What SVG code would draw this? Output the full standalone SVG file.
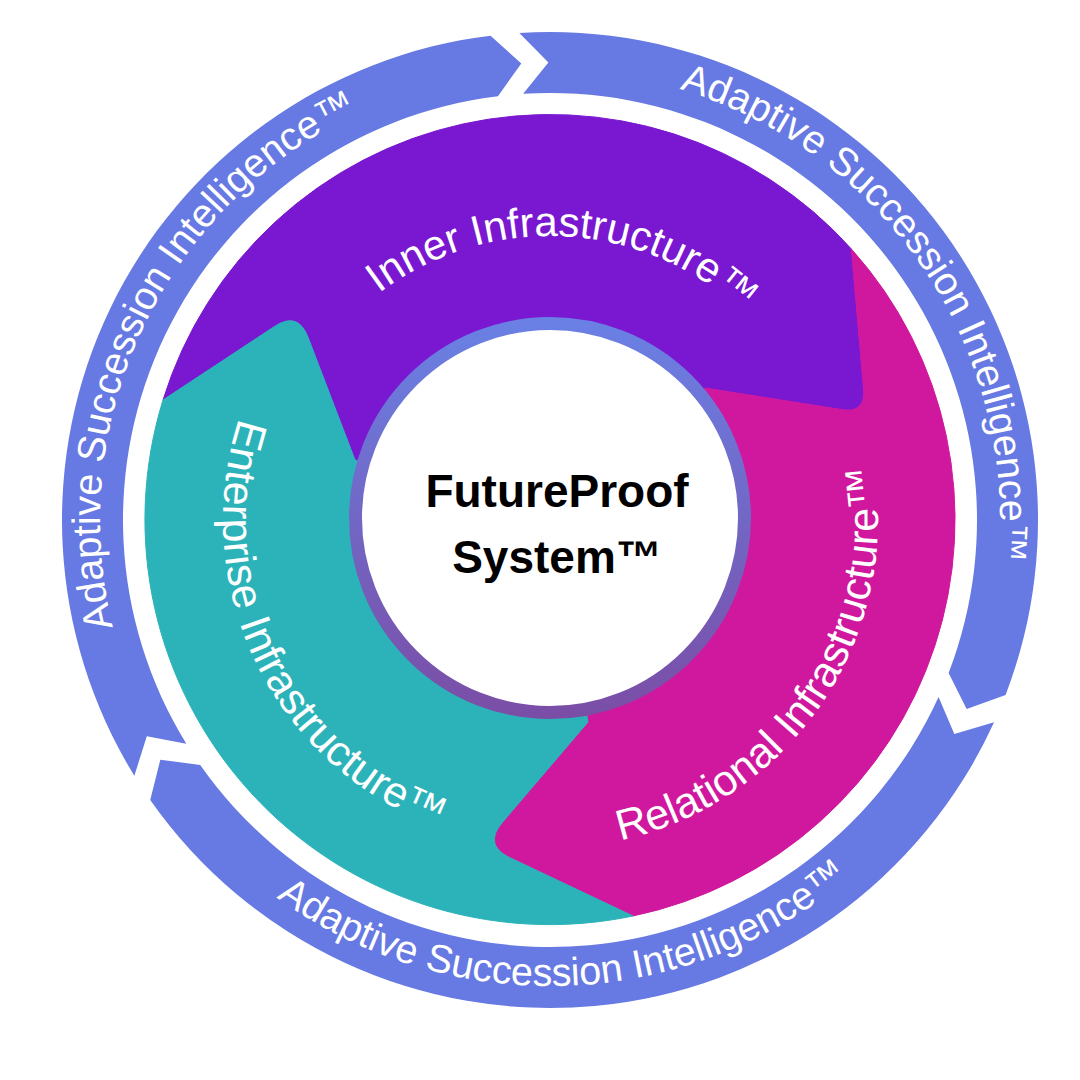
<svg xmlns="http://www.w3.org/2000/svg" width="1080" height="1080" viewBox="0 0 1080 1080">
  <style>
    .outer { fill: #6779e2; }
    .ring-text { fill: #ffffff; font-family: "Liberation Sans", Arial, sans-serif; font-size: 39.5px; }
    .seg-text { fill: #ffffff; font-family: "Liberation Sans", Arial, sans-serif; font-size: 42px; }
    .seg-text-lg { fill: #ffffff; font-family: "Liberation Sans", Arial, sans-serif; font-size: 43px; }
    .center-text { fill: #000000; font-family: "Liberation Sans", Arial, sans-serif; font-size: 46px; font-weight: bold; text-anchor: middle; }
    .seg { stroke-width: 1; stroke-linejoin: round; }
  </style>
  <defs>
    <linearGradient id="ringGrad" x1="0" y1="0" x2="0" y2="1">
      <stop offset="0" stop-color="#6a80e4"/>
      <stop offset="1" stop-color="#7a4ea6"/>
    </linearGradient>
    <path id="tp-outer-a" d="M 298.36 146.93 A 450 450 0 0 1 923.07 268.36 A 450 450 0 0 1 801.64 893.07"/>
    <path id="tp-outer-c" d="M 356.27 926.17 A 450 450 0 0 1 143.83 326.27 A 450 450 0 0 1 743.73 113.83"/>
    <path id="tp-outer-b" d="M 84.28 536.26 A 466 466 0 0 0 566.26 985.72 A 466 466 0 0 0 1015.72 503.74"/>
    <path id="tp-inner" d="M 266.39 505.14 A 284 284 0 0 1 564.86 236.39 A 284 284 0 0 1 833.61 534.86"/>
    <path id="tp-relational" d="M 366.59 791.93 A 328 328 0 0 0 821.93 703.41 A 328 328 0 0 0 733.41 248.07"/>
    <path id="tp-enterprise" d="M 406.65 226.10 A 327 327 0 0 0 256.10 663.35 A 327 327 0 0 0 693.35 813.90"/>
  </defs>

  <g id="outer-ring-top-right">
    <path class="outer" d="M 519.36 32.96 A 488 488 0 0 1 1005.59 694.88 L 966.64 708.99 L 948.64 673.02 A 427 427 0 0 0 523.19 93.84 L 548.40 62.50 Z"/>
    <text class="ring-text"><textPath href="#tp-outer-a" startOffset="50%" text-anchor="middle">Adaptive Succession Intelligence™</textPath></text>
  </g>
  <g id="outer-ring-bottom">
    <path class="outer" d="M 994.06 722.37 A 488 488 0 0 1 150.25 799.91 L 160.33 759.73 L 200.22 764.92 A 427 427 0 0 0 938.55 697.07 L 954.32 734.08 Z"/>
    <text class="ring-text"><textPath href="#tp-outer-b" startOffset="50%" text-anchor="middle">Adaptive Succession Intelligence™</textPath></text>
  </g>
  <g id="outer-ring-left">
    <path class="outer" d="M 134.36 775.71 A 488 488 0 0 1 490.53 35.64 L 521.27 63.40 L 497.96 96.18 A 427 427 0 0 0 186.31 743.74 L 146.81 736.19 Z"/>
    <text class="ring-text"><textPath href="#tp-outer-c" startOffset="50%" text-anchor="middle">Adaptive Succession Intelligence™</textPath></text>
  </g>

  <g id="inner-infrastructure">
    <path class="seg" fill="#7a17d1" stroke="#7a17d1" d="M 550 520 L 355 460 L 308.0 337.2 Q 298 311 274.6 326.4 L 163 400 A 405 405 0 0 1 851.3 248.9 L 863.6 389.5 Q 865.5 413.4 841.8 409.6 L 705 388 Z"/>
    <text class="seg-text"><textPath href="#tp-inner" startOffset="50%" text-anchor="middle">Inner Infrastructure™</textPath></text>
  </g>
  <g id="relational-infrastructure">
    <path class="seg" fill="#d0189e" stroke="#d0189e" d="M 550 520 L 705 388 L 841.8 409.6 Q 865.5 413.4 863.6 389.5 L 851.3 248.9 A 405 405 0 0 1 633 916 L 510.1 857.8 Q 483 845 502.5 822.2 L 588 722 Z"/>
    <text class="seg-text-lg"><textPath href="#tp-relational" startOffset="50%" text-anchor="middle">Relational Infrastructure™</textPath></text>
  </g>
  <g id="enterprise-infrastructure">
    <path class="seg" fill="#2bb3b9" stroke="#2bb3b9" d="M 550 520 L 588 722 L 502.5 822.2 Q 483 845 510.1 857.8 L 633 916 A 405 405 0 0 1 163 400 L 274.6 326.4 Q 298 311 308.0 337.2 L 355 460 Z"/>
    <text class="seg-text-lg"><textPath href="#tp-enterprise" startOffset="50%" text-anchor="middle">Enterprise Infrastructure™</textPath></text>
  </g>

  <g id="futureproof-system">
    <circle cx="550" cy="518" r="194.5" fill="#ffffff" stroke="url(#ringGrad)" stroke-width="13"/>
    <text class="center-text" x="557" y="507">FutureProof</text>
    <text class="center-text" x="557" y="573">System™</text>
  </g>

  <g id="connectors"/>
</svg>
